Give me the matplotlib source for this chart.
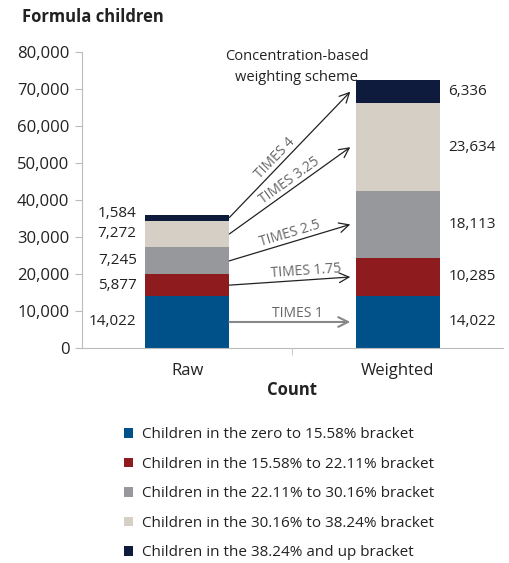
import math
import matplotlib
matplotlib.use("Agg")
import matplotlib.pyplot as plt
from matplotlib.patches import Patch
from matplotlib.ticker import FuncFormatter

plt.rcParams['font.family'] = ['Open Sans', 'DejaVu Sans']

categories = ["Raw", "Weighted"]
series_names = [
    "Children in the zero to 15.58% bracket",
    "Children in the 15.58% to 22.11% bracket",
    "Children in the 22.11% to 30.16% bracket",
    "Children in the 30.16% to 38.24% bracket",
    "Children in the 38.24% and up bracket",
]
raw_values = [14022, 5877, 7245, 7272, 1584]
weighted_values = [14022, 10285, 18113, 23634, 6336]
multipliers = ["TIMES 1", "TIMES 1.75", "TIMES 2.5", "TIMES 3.25", "TIMES 4"]
colors = ["#005189", "#8E1B1E", "#97989B", "#D5CFC5", "#0E1B3C"]

fig = plt.figure(figsize=(5.09, 5.63), dpi=100)
ax = fig.add_axes([0.161, 0.382, 0.827, 0.526])

bw = 0.4
x = [0, 1]
bottoms = [0, 0]
raw_mids, w_mids = [], []
for i in range(5):
    vals = [raw_values[i], weighted_values[i]]
    ax.bar(x, vals, bw, bottom=bottoms, color=colors[i], edgecolor='none', zorder=2)
    raw_mids.append(bottoms[0] + vals[0] / 2)
    w_mids.append(bottoms[1] + vals[1] / 2)
    bottoms = [bottoms[0] + vals[0], bottoms[1] + vals[1]]

ax.set_xlim(-0.5, 1.5)
ax.set_ylim(0, 80000)
ax.set_yticks(range(0, 80001, 10000))
ax.yaxis.set_major_formatter(FuncFormatter(lambda v, p: f"{int(v):,}"))
ax.set_xticks(x)
ax.set_xticklabels(categories)
ax.set_xticks([0.5], minor=True)
ax.tick_params(axis='x', which='major', length=0, labelsize=12, pad=11, colors='#222222')
ax.tick_params(axis='x', which='minor', length=5, color='#bbbbbb')
ax.tick_params(axis='y', length=5, color='#bbbbbb', labelsize=12, pad=4, labelcolor='#222222')
for s in ['top', 'right']:
    ax.spines[s].set_visible(False)
ax.spines['left'].set_color('#bbbbbb')
ax.spines['bottom'].set_color('#bbbbbb')
ax.set_xlabel("Count", fontsize=12, fontweight='bold', labelpad=1, color='#222222')

# value labels
label_y_raw = list(raw_mids)
label_y_raw[4] = raw_mids[4] + 1200
for i in range(5):
    ax.text(-0.24, label_y_raw[i], f"{raw_values[i]:,}", ha='right', va='center',
            fontsize=11, color='#222222')
    ax.text(1.24, w_mids[i], f"{weighted_values[i]:,}", ha='left', va='center',
            fontsize=11, color='#222222')

# arrows
x0, x1 = 0.2, 0.775
for i in range(5):
    lc = '#888888' if i == 0 else '#222222'
    lw = 1.5 if i == 0 else 0.9
    ax.annotate("", xy=(x1, w_mids[i]), xytext=(x0, raw_mids[i]),
                arrowprops=dict(arrowstyle='->,head_length=0.7,head_width=0.35',
                                color=lc, lw=lw, shrinkA=0, shrinkB=0), zorder=3)

# rotated labels along arrows
fig.canvas.draw()
label_frac = [0.35, 0.35, 0.27, 0.30, 0.28]
for i in range(5):
    p0 = ax.transData.transform((x0, raw_mids[i]))
    p1 = ax.transData.transform((x1, w_mids[i]))
    ang = math.degrees(math.atan2(p1[1] - p0[1], p1[0] - p0[0]))
    f = label_frac[i]
    px = p0[0] + f * (p1[0] - p0[0])
    py = p0[1] + f * (p1[1] - p0[1])
    off = 1.0
    nx, ny = -math.sin(math.radians(ang)), math.cos(math.radians(ang))
    dx, dy = ax.transData.inverted().transform((px + nx * off, py + ny * off))
    ax.text(dx, dy, multipliers[i], rotation=ang, rotation_mode='anchor',
            ha='left', va='bottom', fontsize=10, color='#666666', zorder=4)

ax.text(0.52, 76000, "Concentration-based\nweighting scheme", ha='center', va='center',
        fontsize=10.5, color='#222222', linespacing=1.55)

fig.text(0.043, 0.97, "Formula children", ha='left', va='center', fontsize=12,
         fontweight='bold', color='#222222')

handles = [Patch(facecolor=c, edgecolor='none') for c in colors]
fig.legend(handles, series_names, loc='upper left', bbox_to_anchor=(0.232, 0.252),
           frameon=False, fontsize=11, handlelength=0.6, handleheight=0.6,
           handletextpad=0.55, labelspacing=0.95, borderaxespad=0, labelcolor='#222222')

fig.savefig("out.png", dpi=100)
